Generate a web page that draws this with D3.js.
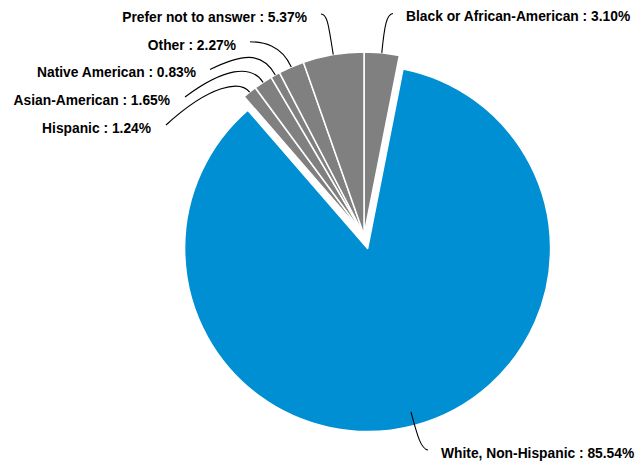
<!DOCTYPE html>
<html>
<head>
<meta charset="utf-8">
<script src="https://cdn.jsdelivr.net/npm/d3@7"></script>
<style>
  html, body { margin: 0; padding: 0; background: #fff; }
  svg { display: block; }
  text { font-family: "Liberation Sans", Arial, Helvetica, sans-serif; font-weight: bold; }
</style>
</head>
<body>
<svg id="chart" width="637" height="464"></svg>
<script>
// ---- data ----
const categories = [
  "Black or African-American",
  "White, Non-Hispanic",
  "Hispanic",
  "Asian-American",
  "Native American",
  "Other",
  "Prefer not to answer"
];
const values = [3.10, 85.54, 1.24, 1.65, 0.83, 2.27, 5.37];
const valueLabels = ["3.10%", "85.54%", "1.24%", "1.65%", "0.83%", "2.27%", "5.37%"];
const explodedCategory = "White, Non-Hispanic";

// ---- styles / layout ----
const colorFor = name => name === explodedCategory ? "#008fd3" : "#808080";
const cx = 364, cy = 235, R = 183, explode = 14;
const fontSize = 13.8;

// label layout: text anchor point, tick start point, first control point, radial elbow length
const labelLayout = [
  { x: 406, y: 16.7, anchor: "start", T: [393, 13.5], c1: [386.5, 14], L: 27 },
  { x: 441, y: 453.3, anchor: "start", T: [428, 450], c1: [421, 449], L: 25 },
  { x: 151, y: 128.3, anchor: "end", T: [166, 125], c1: [211, 84], L: 15 },
  { x: 170, y: 100.7, anchor: "end", T: [185, 97], c1: [224, 68], L: 22 },
  { x: 196, y: 72.7, anchor: "end", T: [210, 69.5], c1: [241, 54.5], L: 28 },
  { x: 236, y: 45.7, anchor: "end", T: [250, 41.7], c1: [262, 42], L: 25 },
  { x: 307, y: 17, anchor: "end", T: [321, 14], c1: [328, 14], L: 26 }
];

const svg = d3.select("#chart");
const pie = d3.pie().sort(null).value(d => d.value).startAngle(0).endAngle(2 * Math.PI);
const arcs = pie(categories.map((c, i) => ({ name: c, value: values[i], label: valueLabels[i], i })));
const arc = d3.arc().innerRadius(0).outerRadius(R);

const g = svg.append("g").attr("transform", `translate(${cx},${cy})`);

g.selectAll("path.slice")
  .data(arcs)
  .join("path")
  .attr("class", "slice")
  .attr("d", arc)
  .attr("fill", d => colorFor(d.data.name))
  .attr("stroke", "#fff")
  .attr("stroke-width", 1.5)
  .attr("stroke-linejoin", "round")
  .attr("transform", d => {
    if (d.data.name !== explodedCategory) return null;
    const m = (d.startAngle + d.endAngle) / 2;
    return `translate(${explode * Math.sin(m)},${-explode * Math.cos(m)})`;
  });

// ticks and labels
const ticks = svg.append("g");
arcs.forEach((d, i) => {
  const lay = labelLayout[i];
  const m = (d.startAngle + d.endAngle) / 2;
  const dx = Math.sin(m), dy = -Math.cos(m);
  const P0 = [cx + R * dx, cy + R * dy];
  const c2 = [P0[0] + lay.L * dx, P0[1] + lay.L * dy];
  const p = d3.path();
  p.moveTo(lay.T[0], lay.T[1]);
  p.bezierCurveTo(lay.c1[0], lay.c1[1], c2[0], c2[1], P0[0], P0[1]);
  ticks.append("path")
    .attr("d", p.toString())
    .attr("fill", "none")
    .attr("stroke", "#000")
    .attr("stroke-width", 1.1);
  svg.append("text")
    .attr("x", lay.x)
    .attr("y", lay.y)
    .attr("text-anchor", lay.anchor)
    .attr("dominant-baseline", "central")
    .attr("font-size", fontSize)
    .attr("fill", "#000")
    .text(`${d.data.name} : ${d.data.label}`);
});
</script>
</body>
</html>
